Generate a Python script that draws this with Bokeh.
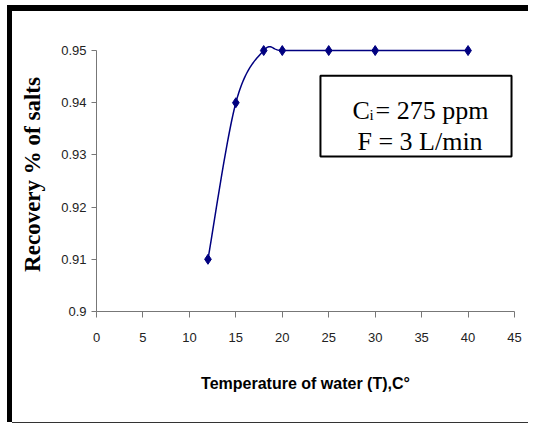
import numpy as np
from bokeh.plotting import figure
from bokeh.models import Label, BoxAnnotation, FixedTicker, Range1d
from bokeh.embed import file_html
from bokeh.resources import INLINE

# ---- data ----
temperature = [12, 15, 18, 20, 25, 30, 40]
recovery = [0.91, 0.94, 0.95, 0.95, 0.95, 0.95, 0.95]
x_ticks = [0, 5, 10, 15, 20, 25, 30, 35, 40, 45]
y_ticks = [0.9, 0.91, 0.92, 0.93, 0.94, 0.95]
y_tick_labels = ["0.9", "0.91", "0.92", "0.93", "0.94", "0.95"]
x_title = "Temperature of water (T),C\u00b0"
y_title = "Recovery % of salts"
note_c = "C"
note_sub = "i"
note_rest = "= 275 ppm"
note_line2 = "F = 3 L/min"

SANS = "'Liberation Sans', Arial, sans-serif"
SERIF = "'Liberation Serif', 'Times New Roman', serif"
NAVY = "#000080"


def smooth(xs, ys, steps=30):
    pts = np.column_stack([xs, ys]).astype(float)
    n = len(pts)
    out = [pts[0]]
    t = np.linspace(0, 1, steps)[1:]
    for i in range(n - 1):
        p0 = pts[max(i - 1, 0)]
        p1 = pts[i]
        p2 = pts[i + 1]
        p3 = pts[min(i + 2, n - 1)]
        c1 = p1 + (p2 - p0) / 6.0
        c2 = p2 - (p3 - p1) / 6.0
        seg = (((1 - t) ** 3)[:, None] * p1 + (3 * (1 - t) ** 2 * t)[:, None] * c1
               + (3 * (1 - t) * t ** 2)[:, None] * c2 + (t ** 3)[:, None] * p2)
        out.extend(seg)
    out = np.array(out)
    return out[:, 0], out[:, 1]


W, H = 516, 411
p = figure(width=W, height=H, output_backend="svg", toolbar_location=None,
           x_range=Range1d(0, 45), y_range=Range1d(0.9, 0.9525),
           min_border_left=84, min_border_right=14, min_border_top=26, min_border_bottom=111)
p.margin = (11, 0, 0, 12)
p.outline_line_color = None
p.xgrid.visible = False
p.ygrid.visible = False
p.background_fill_color = "white"
p.border_fill_color = "white"
# outer frame: CSS shadows outside the canvas (thick left/top, thin bottom)
p.styles = {"box-shadow": "-5px 0 0 0 black, 0 -6px 0 0 black, -5px -6px 0 0 black, "
                          "0 1px 0 0 #333333"}

sx, sy = smooth(temperature, recovery)
p.line(sx, sy, line_color=NAVY, line_width=1.5)
p.scatter(temperature, recovery, marker="diamond", size=10, fill_color=NAVY, line_color=NAVY)

for ax in (p.xaxis[0], p.yaxis[0]):
    ax.axis_line_color = "#777777"
    ax.major_tick_line_color = "#777777"
    ax.minor_tick_line_color = None
    ax.major_tick_in = 0
    ax.major_label_text_font = SANS
    ax.major_label_text_font_size = "13px"
    ax.major_label_text_color = "#222222"

p.xaxis.ticker = FixedTicker(ticks=x_ticks)
p.xaxis.major_tick_out = 6
p.xaxis.major_label_standoff = 15
p.xaxis.axis_label = x_title
p.xaxis.axis_label_text_font = SANS
p.xaxis.axis_label_text_font_style = "bold"
p.xaxis.axis_label_text_font_size = "16px"
p.xaxis.axis_label_text_color = "black"
p.xaxis.axis_label_standoff = 30

p.yaxis.ticker = FixedTicker(ticks=y_ticks)
p.yaxis.major_label_overrides = {t: l for t, l in zip(y_ticks, y_tick_labels)}
p.yaxis.bounds = (y_ticks[0], y_ticks[-1])
p.yaxis.major_tick_out = 5
p.yaxis.major_label_standoff = 5
p.yaxis.axis_label = y_title
p.yaxis.axis_label_text_font = SERIF
p.yaxis.axis_label_text_font_style = "bold"
p.yaxis.axis_label_text_font_size = "23px"
p.yaxis.axis_label_text_color = "black"
p.yaxis.axis_label_standoff = 13

# annotation box
p.add_layout(BoxAnnotation(left=24.11, right=44.68, bottom=0.92969, top=0.94515,
                           fill_color="white", fill_alpha=1.0,
                           line_color="black", line_width=2, line_alpha=1.0))
p.add_layout(Label(x=27.56, y=0.93845, text=note_c, text_font=SERIF,
                   text_font_size="26px", text_color="black", text_baseline="alphabetic"))
p.add_layout(Label(x=29.39, y=0.93768, text=note_sub, text_font=SERIF,
                   text_font_size="15px", text_color="black", text_baseline="alphabetic"))
p.add_layout(Label(x=30.04, y=0.93845, text=note_rest, text_font=SERIF,
                   text_font_size="26px", text_color="black", text_baseline="alphabetic"))
p.add_layout(Label(x=34.83, y=0.93251, text=note_line2, text_font=SERIF,
                   text_font_size="26px", text_color="black", text_align="center",
                   text_baseline="alphabetic"))

open("out.html", "w").write(file_html(p, INLINE))
